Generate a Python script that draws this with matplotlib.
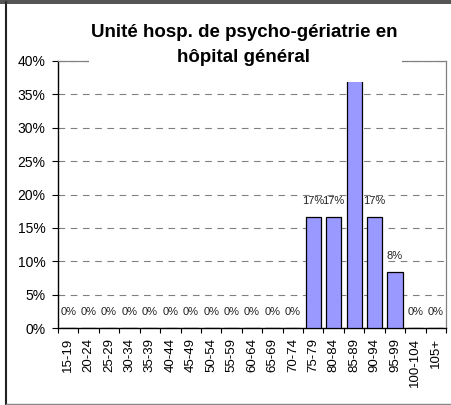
import matplotlib
matplotlib.use("Agg")
import matplotlib.pyplot as plt
from matplotlib.patches import Rectangle
from matplotlib.lines import Line2D

plt.rcParams['font.family'] = ['Liberation Sans', 'DejaVu Sans']

categories = ['15-19', '20-24', '25-29', '30-34', '35-39', '40-44', '45-49',
              '50-54', '55-59', '60-64', '65-69', '70-74', '75-79', '80-84',
              '85-89', '90-94', '95-99', '100-104', '105+']
values = [0, 0, 0, 0, 0, 0, 0, 0, 0, 0, 0, 0,
          16.67, 16.67, 41.67, 16.67, 8.33, 0, 0]
# the 85-89 label is hidden behind the title in the original
value_labels = ['0%'] * 12 + ['17%', '17%', '', '17%', '8%', '0%', '0%']
yticks = [0, 5, 10, 15, 20, 25, 30, 35, 40]
title = "Unité hosp. de psycho-gériatrie en\nhôpital général"

W, H = 452, 405
fig = plt.figure(figsize=(W / 100, H / 100), dpi=100)
fig.patch.set_facecolor('white')

L, R, T, B = 58, 446, 61, 328
ax = fig.add_axes([L / W, 1 - B / H, (R - L) / W, (B - T) / H])

x = list(range(len(categories)))
ax.bar(x, values, width=0.74, color='#9999FF', edgecolor='black', linewidth=0.9, zorder=3)

ax.set_xlim(-0.5, len(categories) - 0.5)
ax.set_ylim(0, 40)

for xi, v, lab in zip(x, values, value_labels):
    if lab:
        ax.annotate(lab, xy=(xi, min(v, 40)), xytext=(0, 11.5), textcoords='offset points',
                    ha='center', va='center', fontsize=8, color='#222222',
                    annotation_clip=False, zorder=4)

ax.set_yticks(yticks)
ax.set_yticklabels([f"{t}%" for t in yticks], fontsize=10)
ax.yaxis.grid(True, linestyle=(0, (6, 5)), color='#808080', linewidth=0.8, zorder=0)
ax.set_axisbelow(True)

ax.set_xticks(x)
ax.set_xticklabels(categories, rotation=90, fontsize=9.5, va='top')
ax.set_xticks([i - 0.5 for i in range(len(categories) + 1)], minor=True)
ax.tick_params(axis='x', which='major', length=0, pad=7)
ax.tick_params(axis='x', which='minor', length=3.5, width=0.8, direction='out')
ax.tick_params(axis='y', which='major', length=4, width=0.8, direction='out', pad=5)

for side in ['left', 'bottom']:
    ax.spines[side].set_color('black')
    ax.spines[side].set_linewidth(1.0)
for side in ['top', 'right']:
    ax.spines[side].set_color('#808080')
    ax.spines[side].set_linewidth(0.9)

# title box covering part of plot
fig.add_artist(Rectangle((89 / W, 1 - 82 / H), (402 - 89) / W, (82 - 12) / H,
                         transform=fig.transFigure, facecolor='white',
                         edgecolor='none', zorder=10))
fig.text(244 / W, 1 - 45 / H, title, ha='center', va='center', fontsize=13.5,
         fontweight='bold', linespacing=1.62, zorder=11)

# outer frame
fig.add_artist(Line2D([6 / W, 6 / W], [1 - 404 / H, 1 - 2 / H], transform=fig.transFigure,
                      color='#222222', linewidth=1.5, zorder=12))
fig.add_artist(Line2D([0, 1], [1 - 0.8 / H, 1 - 0.8 / H], transform=fig.transFigure,
                      color='#333333', linewidth=1.2, zorder=12))
fig.add_artist(Line2D([0, 1], [1 - 3.2 / H, 1 - 3.2 / H], transform=fig.transFigure,
                      color='#333333', linewidth=1.2, zorder=12))
fig.add_artist(Line2D([6 / W, 1], [1 - 403.8 / H, 1 - 403.8 / H], transform=fig.transFigure,
                      color='#888888', linewidth=1.0, zorder=12))

fig.savefig('out.png', dpi=100)
